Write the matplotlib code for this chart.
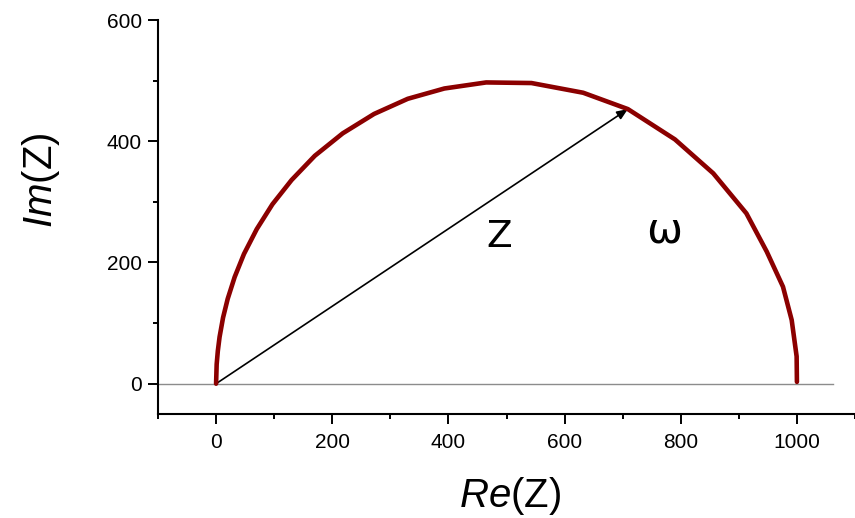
import matplotlib
matplotlib.use("Agg")
import matplotlib.pyplot as plt

plt.rcParams['font.family'] = ['Liberation Sans', 'DejaVu Sans']
plt.rcParams['mathtext.fontset'] = 'custom'
plt.rcParams['mathtext.rm'] = 'Liberation Sans'
plt.rcParams['mathtext.it'] = 'Liberation Sans:italic'

# Nyquist curve, points
re_z = [0, 1, 3, 6, 12, 20, 32, 48, 70, 97, 130, 170, 218, 272, 330, 393, 465,
        543, 632, 709, 790, 856, 913, 948, 976, 991, 999.5, 1000]
im_z = [0, 32, 54, 77, 109, 140, 176, 214, 255, 296, 336, 376, 413, 445, 470, 487, 497,
        496, 480, 453, 403, 347, 281, 218, 160, 105, 45, 3]

arrow_tip = (709, 453)
x_ticks = [0, 200, 400, 600, 800, 1000]
y_ticks = [0, 200, 400, 600]

fig = plt.figure(figsize=(8.55, 5.18), dpi=100)
ax = fig.add_axes([158 / 855, 1 - 414 / 518, 697 / 855, 394 / 518])

# zero line
ax.plot([-100, 1062], [0, 0], color='#8c8c8c', lw=1.0, zorder=1)

# semicircle
ax.plot(re_z, im_z, color='#8b0000', lw=3.3, solid_capstyle='round', zorder=3)

# impedance vector
ax.annotate('', xy=arrow_tip, xytext=(0, 0),
            arrowprops=dict(arrowstyle='-|>,head_length=0.65,head_width=0.27',
                            color='black', lw=1.2, shrinkA=0, shrinkB=0), zorder=2)

ax.text(488, 242, 'Z', fontsize=27, family='DejaVu Sans', ha='center', va='center')
ax.text(772, 253, 'ω', fontsize=31, family='DejaVu Sans', ha='center', va='center')

ax.set_xlim(-100, 1100)
ax.set_ylim(-50, 600)
ax.set_xticks(x_ticks)
ax.set_yticks(y_ticks)
ax.set_xticks(range(-100, 1101, 200), minor=True)
ax.set_yticks(range(100, 600, 200), minor=True)

for s in ['top', 'right']:
    ax.spines[s].set_visible(False)
for s in ['left', 'bottom']:
    ax.spines[s].set_linewidth(1.5)

ax.tick_params(which='major', direction='out', length=7.2, width=1.4, labelsize=15)
ax.tick_params(axis='y', which='major', pad=4.5)
ax.tick_params(axis='x', which='major', pad=6.5)
ax.tick_params(which='minor', direction='out', length=3.6, width=1.4)

ax.set_xlabel(r'$\mathit{Re}$(Z)', fontsize=29)
ax.set_ylabel(r'$\mathit{Im}$(Z)', fontsize=29)
ax.xaxis.set_label_coords(0.505, -0.155)
ax.yaxis.set_label_coords(-0.138, 0.594)

fig.savefig('out.png', dpi=100)
